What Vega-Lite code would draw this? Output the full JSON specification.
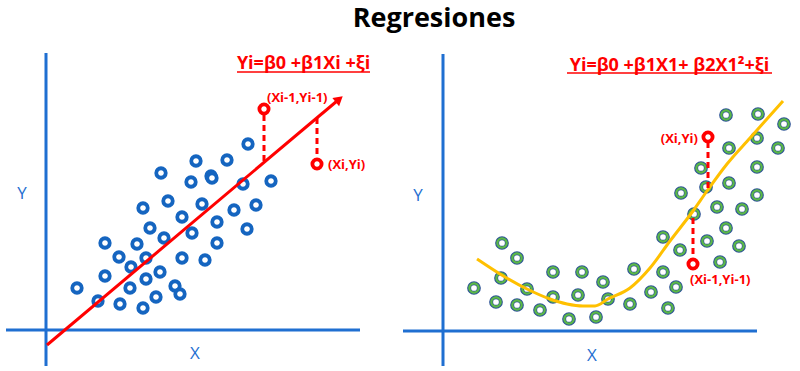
{
  "$schema": "https://vega.github.io/schema/vega-lite/v6.json",
  "padding": {"top": 5, "left": 0, "right": 0, "bottom": 0},
  "background": "white",
  "spacing": 0,
  "title": {"text": "Regresiones", "fontSize": 27, "font": "Open Sans", "fontWeight": "bold", "color": "black", "anchor": "middle", "dx": 34, "offset": 8},
  "config": {"view": {"stroke": null}, "concat": {"spacing": 0}},
  "hconcat": [
    {
      "width": 400,
      "height": 331,
      "data": {"values": [
        {"kind": "axis", "x": 0, "y": -36, "x2": 0, "y2": 277},
        {"kind": "axis", "x": -40, "y": 0, "x2": 314, "y2": 0},
        {"kind": "pt", "x": 31, "y": 42}, {"kind": "pt", "x": 52, "y": 29}, {"kind": "pt", "x": 59, "y": 87},
        {"kind": "pt", "x": 59, "y": 54}, {"kind": "pt", "x": 73, "y": 73}, {"kind": "pt", "x": 74, "y": 26},
        {"kind": "pt", "x": 85, "y": 63}, {"kind": "pt", "x": 84, "y": 42}, {"kind": "pt", "x": 91, "y": 86},
        {"kind": "pt", "x": 97, "y": 22}, {"kind": "pt", "x": 100, "y": 72}, {"kind": "pt", "x": 100, "y": 51},
        {"kind": "pt", "x": 97, "y": 122}, {"kind": "pt", "x": 104, "y": 102}, {"kind": "pt", "x": 110, "y": 33},
        {"kind": "pt", "x": 114, "y": 58}, {"kind": "pt", "x": 115, "y": 157}, {"kind": "pt", "x": 118, "y": 92},
        {"kind": "pt", "x": 122, "y": 129}, {"kind": "pt", "x": 129, "y": 44}, {"kind": "pt", "x": 134, "y": 36},
        {"kind": "pt", "x": 136, "y": 113}, {"kind": "pt", "x": 136, "y": 72}, {"kind": "pt", "x": 145, "y": 148},
        {"kind": "pt", "x": 146, "y": 97}, {"kind": "pt", "x": 150, "y": 169}, {"kind": "pt", "x": 156, "y": 126},
        {"kind": "pt", "x": 159, "y": 70}, {"kind": "pt", "x": 165, "y": 154}, {"kind": "pt", "x": 166, "y": 152},
        {"kind": "pt", "x": 171, "y": 108}, {"kind": "pt", "x": 171, "y": 87}, {"kind": "pt", "x": 181, "y": 170},
        {"kind": "pt", "x": 188, "y": 120}, {"kind": "pt", "x": 197, "y": 146}, {"kind": "pt", "x": 201, "y": 101},
        {"kind": "pt", "x": 202, "y": 186}, {"kind": "pt", "x": 210, "y": 125}, {"kind": "pt", "x": 225, "y": 149},
        {"kind": "reg", "x": 1, "y": -15, "x2": 291, "y2": 229},
        {"kind": "arrow", "x": 293.2, "y": 230.8},
        {"kind": "dash", "x": 218, "y": 169, "x2": 218, "y2": 221},
        {"kind": "dash", "x": 271, "y": 166, "x2": 271, "y2": 213},
        {"kind": "obs", "x": 218, "y": 221}, {"kind": "obs", "x": 271, "y": 166},
        {"kind": "labL", "x": 221, "y": 232, "label": "(Xi-1,Yi-1)"},
        {"kind": "labL", "x": 282, "y": 165, "label": "(Xi,Yi)"},
        {"kind": "eq", "x": 257.5, "y": 266, "label": "Yi=β0 +β1Xi +ξi"},
        {"kind": "ul", "x": 191, "y": 258, "x2": 324, "y2": 258},
        {"kind": "axlab", "x": -24, "y": 136, "label": "Y"},
        {"kind": "axlab", "x": 149, "y": -24, "label": "X"}
      ]},
      "encoding": {
        "x": {"field": "x", "type": "quantitative", "scale": {"domain": [-46, 354], "nice": false, "zero": false}, "axis": null},
        "y": {"field": "y", "type": "quantitative", "scale": {"domain": [-42, 289], "nice": false, "zero": false}, "axis": null}
      },
      "layer": [
        {"transform": [{"filter": "datum.kind==='axis'"}], "mark": {"type": "rule", "color": "#1f6fd1", "strokeWidth": 3}, "encoding": {"x2": {"field": "x2"}, "y2": {"field": "y2"}}},
        {"transform": [{"filter": "datum.kind==='pt'"}], "mark": {"type": "point", "shape": "circle", "filled": false, "stroke": "#1565c0", "fill": "white", "strokeWidth": 3.8, "size": 90, "opacity": 1}},
        {"transform": [{"filter": "datum.kind==='reg'"}], "mark": {"type": "rule", "color": "#ff0000", "strokeWidth": 3}, "encoding": {"x2": {"field": "x2"}, "y2": {"field": "y2"}}},
        {"transform": [{"filter": "datum.kind==='arrow'"}], "mark": {"type": "point", "shape": "triangle-up", "filled": true, "color": "#ff0000", "size": 110, "angle": 50, "opacity": 1}},
        {"transform": [{"filter": "datum.kind==='dash'"}], "mark": {"type": "rule", "color": "#ff0000", "strokeWidth": 3, "strokeDash": [6, 4]}, "encoding": {"x2": {"field": "x2"}, "y2": {"field": "y2"}}},
        {"transform": [{"filter": "datum.kind==='obs'"}], "mark": {"type": "point", "shape": "circle", "filled": false, "stroke": "#ff0000", "fill": "white", "strokeWidth": 3.8, "size": 85, "opacity": 1}},
        {"transform": [{"filter": "datum.kind==='labL'"}], "mark": {"type": "text", "align": "left", "baseline": "middle", "font": "Open Sans", "fontWeight": "bold", "fontSize": 13, "color": "#ff0000"}, "encoding": {"text": {"field": "label"}}},
        {"transform": [{"filter": "datum.kind==='eq'"}], "mark": {"type": "text", "align": "center", "baseline": "middle", "font": "Open Sans", "fontWeight": "bold", "fontSize": 18, "color": "#ff0000"}, "encoding": {"text": {"field": "label"}}},
        {"transform": [{"filter": "datum.kind==='ul'"}], "mark": {"type": "rule", "color": "#ff0000", "strokeWidth": 1.5}, "encoding": {"x2": {"field": "x2"}, "y2": {"field": "y2"}}},
        {"transform": [{"filter": "datum.kind==='axlab'"}], "mark": {"type": "text", "align": "center", "baseline": "middle", "font": "Open Sans", "fontSize": 17, "color": "#1f6fd1"}, "encoding": {"text": {"field": "label"}}}
      ]
    },
    {
      "width": 400,
      "height": 331,
      "data": {"values": [
        {"kind": "axis", "x": 0, "y": -35, "x2": 0, "y2": 277},
        {"kind": "axis", "x": -40, "y": 0, "x2": 314, "y2": 0},
        {"kind": "pt", "x": 31, "y": 43}, {"kind": "pt", "x": 59, "y": 88}, {"kind": "pt", "x": 58, "y": 53},
        {"kind": "pt", "x": 53, "y": 29}, {"kind": "pt", "x": 74, "y": 73}, {"kind": "pt", "x": 74, "y": 26},
        {"kind": "pt", "x": 84, "y": 42}, {"kind": "pt", "x": 97, "y": 21}, {"kind": "pt", "x": 110, "y": 59},
        {"kind": "pt", "x": 110, "y": 34}, {"kind": "pt", "x": 126, "y": 12}, {"kind": "pt", "x": 135, "y": 36},
        {"kind": "pt", "x": 139, "y": 59}, {"kind": "pt", "x": 153, "y": 14}, {"kind": "pt", "x": 160, "y": 49},
        {"kind": "pt", "x": 165, "y": 32}, {"kind": "pt", "x": 187, "y": 27}, {"kind": "pt", "x": 191, "y": 62},
        {"kind": "pt", "x": 208, "y": 39}, {"kind": "pt", "x": 220, "y": 59}, {"kind": "pt", "x": 220, "y": 94},
        {"kind": "pt", "x": 225, "y": 23}, {"kind": "pt", "x": 233, "y": 44}, {"kind": "pt", "x": 237, "y": 81},
        {"kind": "pt", "x": 238, "y": 138}, {"kind": "pt", "x": 251, "y": 117}, {"kind": "pt", "x": 258, "y": 163},
        {"kind": "pt", "x": 263, "y": 144}, {"kind": "pt", "x": 264, "y": 90}, {"kind": "pt", "x": 274, "y": 124},
        {"kind": "pt", "x": 277, "y": 69}, {"kind": "pt", "x": 283, "y": 103}, {"kind": "pt", "x": 286, "y": 183},
        {"kind": "pt", "x": 286, "y": 148}, {"kind": "pt", "x": 283, "y": 216}, {"kind": "pt", "x": 296, "y": 85},
        {"kind": "pt", "x": 299, "y": 122}, {"kind": "pt", "x": 314, "y": 136}, {"kind": "pt", "x": 314, "y": 164},
        {"kind": "pt", "x": 314, "y": 193}, {"kind": "pt", "x": 315, "y": 217}, {"kind": "pt", "x": 335, "y": 183},
        {"kind": "pt", "x": 341, "y": 207},
        {"kind": "fit", "x": 34, "y": 72}, {"kind": "fit", "x": 57, "y": 57}, {"kind": "fit", "x": 84, "y": 42},
        {"kind": "fit", "x": 107, "y": 32}, {"kind": "fit", "x": 124, "y": 27}, {"kind": "fit", "x": 140, "y": 25},
        {"kind": "fit", "x": 152, "y": 25}, {"kind": "fit", "x": 165, "y": 32}, {"kind": "fit", "x": 187, "y": 43},
        {"kind": "fit", "x": 207, "y": 63}, {"kind": "fit", "x": 227, "y": 90}, {"kind": "fit", "x": 250, "y": 120},
        {"kind": "fit", "x": 264, "y": 140}, {"kind": "fit", "x": 284, "y": 167}, {"kind": "fit", "x": 307, "y": 193},
        {"kind": "fit", "x": 340, "y": 230},
        {"kind": "dash", "x": 265, "y": 143, "x2": 265, "y2": 194},
        {"kind": "dash", "x": 250, "y": 67, "x2": 250, "y2": 117},
        {"kind": "obs", "x": 265, "y": 194}, {"kind": "obs", "x": 250, "y": 67},
        {"kind": "labR", "x": 255, "y": 192, "label": "(Xi,Yi)"},
        {"kind": "labL", "x": 247, "y": 51, "label": "(Xi-1,Yi-1)"},
        {"kind": "eq", "x": 226.5, "y": 265, "label": "Yi=β0 +β1X1+ β2X1²+ξi"},
        {"kind": "ul", "x": 124, "y": 258, "x2": 329, "y2": 258},
        {"kind": "axlab", "x": -25, "y": 135, "label": "Y"},
        {"kind": "axlab", "x": 149, "y": -25, "label": "X"}
      ]},
      "encoding": {
        "x": {"field": "x", "type": "quantitative", "scale": {"domain": [-43, 357], "nice": false, "zero": false}, "axis": null},
        "y": {"field": "y", "type": "quantitative", "scale": {"domain": [-41, 290], "nice": false, "zero": false}, "axis": null}
      },
      "layer": [
        {"transform": [{"filter": "datum.kind==='axis'"}], "mark": {"type": "rule", "color": "#1f6fd1", "strokeWidth": 3}, "encoding": {"x2": {"field": "x2"}, "y2": {"field": "y2"}}},
        {"transform": [{"filter": "datum.kind==='pt'"}], "mark": {"type": "point", "shape": "circle", "filled": false, "stroke": "#2f5597", "fill": "white", "strokeWidth": 4, "size": 95, "opacity": 1}},
        {"transform": [{"filter": "datum.kind==='pt'"}], "mark": {"type": "point", "shape": "circle", "filled": false, "stroke": "#5cb946", "strokeWidth": 2.2, "size": 88, "opacity": 1}},
        {"transform": [{"filter": "datum.kind==='fit'"}], "mark": {"type": "line", "color": "#ffc000", "strokeWidth": 3, "interpolate": "monotone"}},
        {"transform": [{"filter": "datum.kind==='dash'"}], "mark": {"type": "rule", "color": "#ff0000", "strokeWidth": 3, "strokeDash": [6, 4]}, "encoding": {"x2": {"field": "x2"}, "y2": {"field": "y2"}}},
        {"transform": [{"filter": "datum.kind==='obs'"}], "mark": {"type": "point", "shape": "circle", "filled": false, "stroke": "#ff0000", "fill": "white", "strokeWidth": 3.8, "size": 85, "opacity": 1}},
        {"transform": [{"filter": "datum.kind==='labL'"}], "mark": {"type": "text", "align": "left", "baseline": "middle", "font": "Open Sans", "fontWeight": "bold", "fontSize": 13, "color": "#ff0000"}, "encoding": {"text": {"field": "label"}}},
        {"transform": [{"filter": "datum.kind==='labR'"}], "mark": {"type": "text", "align": "right", "baseline": "middle", "font": "Open Sans", "fontWeight": "bold", "fontSize": 13, "color": "#ff0000"}, "encoding": {"text": {"field": "label"}}},
        {"transform": [{"filter": "datum.kind==='eq'"}], "mark": {"type": "text", "align": "center", "baseline": "middle", "font": "Open Sans", "fontWeight": "bold", "fontSize": 18, "color": "#ff0000"}, "encoding": {"text": {"field": "label"}}},
        {"transform": [{"filter": "datum.kind==='ul'"}], "mark": {"type": "rule", "color": "#ff0000", "strokeWidth": 1.5}, "encoding": {"x2": {"field": "x2"}, "y2": {"field": "y2"}}},
        {"transform": [{"filter": "datum.kind==='axlab'"}], "mark": {"type": "text", "align": "center", "baseline": "middle", "font": "Open Sans", "fontSize": 17, "color": "#1f6fd1"}, "encoding": {"text": {"field": "label"}}}
      ]
    }
  ]
}
